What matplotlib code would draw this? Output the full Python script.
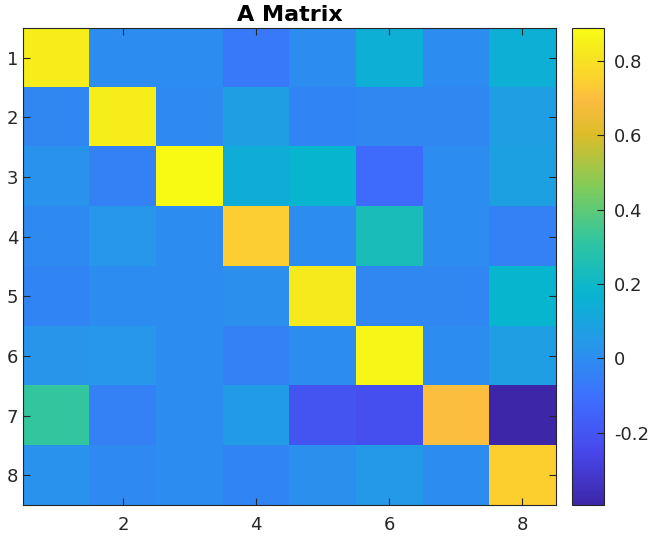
import numpy as np
import matplotlib
matplotlib.use('Agg')
from matplotlib import pyplot as plt
from matplotlib.colors import LinearSegmentedColormap

# matrix values (row 1 at top)
row1 = [0.84, 0.00, 0.00, -0.07, 0.00, 0.15, 0.00, 0.15]
row2 = [-0.02, 0.84, -0.01, 0.07, -0.03, -0.02, -0.02, 0.07]
row3 = [0.02, -0.04, 0.889, 0.14, 0.18, -0.12, 0.00, 0.08]
row4 = [-0.01, 0.04, 0.00, 0.74, 0.00, 0.24, 0.00, -0.04]
row5 = [-0.03, 0.00, 0.00, 0.01, 0.83, -0.02, -0.02, 0.18]
row6 = [0.03, 0.04, 0.00, -0.04, 0.00, 0.87, 0.00, 0.07]
row7 = [0.32, -0.04, 0.00, 0.06, -0.20, -0.22, 0.70, -0.395]
row8 = [0.02, -0.01, 0.00, -0.03, 0.01, 0.05, 0.00, 0.745]
x_ticks = [2, 4, 6, 8]
y_ticks = [1, 2, 3, 4, 5, 6, 7, 8]
cbar_ticks = [-0.2, 0, 0.2, 0.4, 0.6, 0.8]
cbar_labels = ['-0.2', '0', '0.2', '0.4', '0.6', '0.8']

A = np.array([row1, row2, row3, row4, row5, row6, row7, row8])

# rough parula
parula_nodes = [
    (0.000, (0.2422, 0.1504, 0.6603)),
    (0.111, (0.2803, 0.2782, 0.9221)),
    (0.222, (0.2440, 0.4358, 0.9988)),
    (0.333, (0.1540, 0.5902, 0.9218)),
    (0.444, (0.0297, 0.7082, 0.8163)),
    (0.556, (0.1938, 0.7758, 0.6251)),
    (0.667, (0.5044, 0.7993, 0.3480)),
    (0.778, (0.8634, 0.7406, 0.1596)),
    (0.850, (0.9856, 0.7372, 0.2537)),
    (0.889, (0.9892, 0.8136, 0.1885)),
    (0.950, (0.9650, 0.9100, 0.1200)),
    (1.000, (0.9769, 0.9839, 0.0805)),
]
parula = LinearSegmentedColormap.from_list('parula', parula_nodes, N=256)

ink = (0.15, 0.15, 0.15)
fig = plt.figure(figsize=(6.51, 5.37), dpi=100)
ax = fig.add_axes([0.0358, 0.059, 0.8178, 0.889])
cax = fig.add_axes([0.879, 0.059, 0.049, 0.889])

im = ax.imshow(A, cmap=parula, vmin=A.min(), vmax=A.max(), aspect='auto',
               interpolation='nearest', extent=(0.5, 8.5, 8.5, 0.5))
ax.set_xticks(x_ticks)
ax.set_yticks(y_ticks)
ax.tick_params(direction='in', length=5, width=0.8, colors=ink, labelsize=13,
               top=True, right=True, labeltop=False, labelright=False)
ax.tick_params(axis='x', pad=8)
for s in ax.spines.values():
    s.set_color(ink)
    s.set_linewidth(0.8)
ax.set_title('A Matrix', fontsize=16, fontweight='bold', pad=5)

cb = fig.colorbar(im, cax=cax)
cb.set_ticks(cbar_ticks)
cb.set_ticklabels(cbar_labels)
cax.tick_params(direction='in', length=5, width=0.8, colors=ink, labelsize=13, pad=7)
cb.outline.set_edgecolor(ink)
cb.outline.set_linewidth(0.8)

fig.savefig('out.png', dpi=100)
